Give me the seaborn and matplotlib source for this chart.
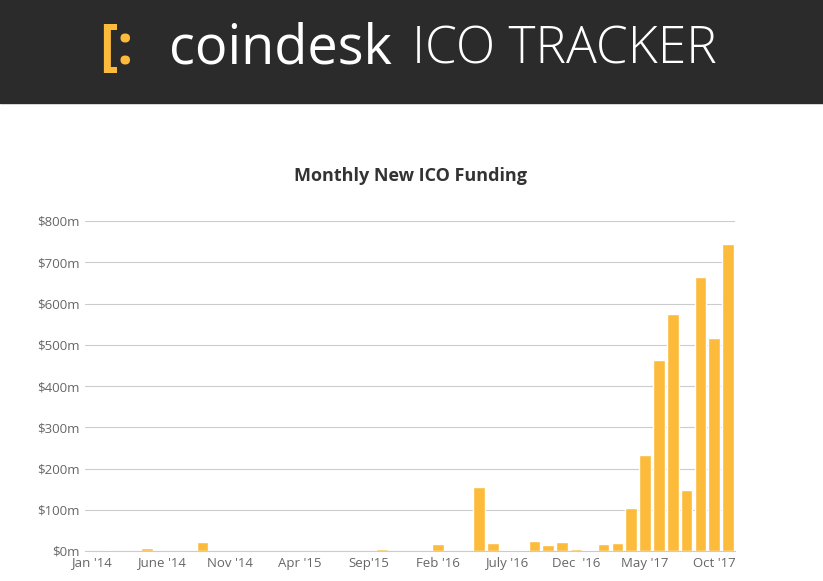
import numpy as np
import pandas as pd
import seaborn as sns
import matplotlib.pyplot as plt
from matplotlib.patches import Rectangle

# monthly new ICO funding, $m, Jan 2014 .. Nov 2017
months = pd.date_range("2014-01-01", "2017-11-01", freq="MS").strftime("%b %Y").tolist()
funding = [0, 2, 0, 0, 7, 0, 1, 0, 21, 0, 0, 0,
           1, 0.6, 0, 1, 0.4, 0, 0, 0, 0, 5, 0, 0,
           0, 17, 0, 0, 155, 19, 3, 2, 24, 14, 21, 6, 3, 18, 20,
           104, 233, 463, 575, 148, 664, 516, 744]
tick_pos = [0, 5, 10, 15, 20, 25, 30, 35, 40, 45]
tick_labels = ["Jan '14", "June '14", "Nov '14", "Apr '15", "Sep'15", "Feb '16",
               "July '16", "Dec  '16", "May '17", "Oct '17"]
y_ticks = [0, 100, 200, 300, 400, 500, 600, 700, 800]

df = pd.DataFrame({"month": months, "funding": funding})

sns.set_style("white")
plt.rcParams["font.family"] = ["Open Sans", "DejaVu Sans"]
fig = plt.figure(figsize=(8.23, 5.81), dpi=100)

# header banner
fig.patches.append(Rectangle((0, 1 - 103 / 581), 1, 103 / 581, transform=fig.transFigure,
                             color="#2b2b2b", zorder=0))
fig.text(0.205, 0.915, "coindesk", color="white", fontsize=39, va="center", ha="left")
fig.text(0.5, 0.915, "ICO TRACKER", color="white", fontsize=37, va="center", ha="left",
         fontweight="light")
fig.text(0.12, 0.915, "[:", color="#fdbb3b", fontsize=40, va="center", ha="left",
         fontweight="bold")

ax = fig.add_axes([85 / 823, 1 - 551 / 581, 650 / 823, 330 / 581])
sns.barplot(data=df, x="month", y="funding", color="#fdbb3b", saturation=1,
            width=0.85, ax=ax)
ax.set_xlim(-0.5, len(months) - 0.5)
ax.set_ylim(0, 800)
ax.set_yticks(y_ticks)
ax.set_yticklabels([f"${v}m" for v in y_ticks], color="#666666", fontsize=9.5)
ax.set_xticks(tick_pos)
ax.set_xticklabels(tick_labels, color="#666666", fontsize=9.5)
ax.yaxis.grid(True, color="#cccccc", linewidth=0.8)
ax.set_axisbelow(True)
ax.tick_params(axis="both", length=0, pad=4)
for s in ["top", "right", "left"]:
    ax.spines[s].set_visible(False)
ax.spines["bottom"].set_color("#cccccc")
ax.set_xlabel("")
ax.set_ylabel("")
fig.text(410 / 823, 1 - 176 / 581, "Monthly New ICO Funding", ha="center", va="center",
         fontsize=13, fontweight="bold", color="#333333")

fig.savefig("out.png", dpi=100)
